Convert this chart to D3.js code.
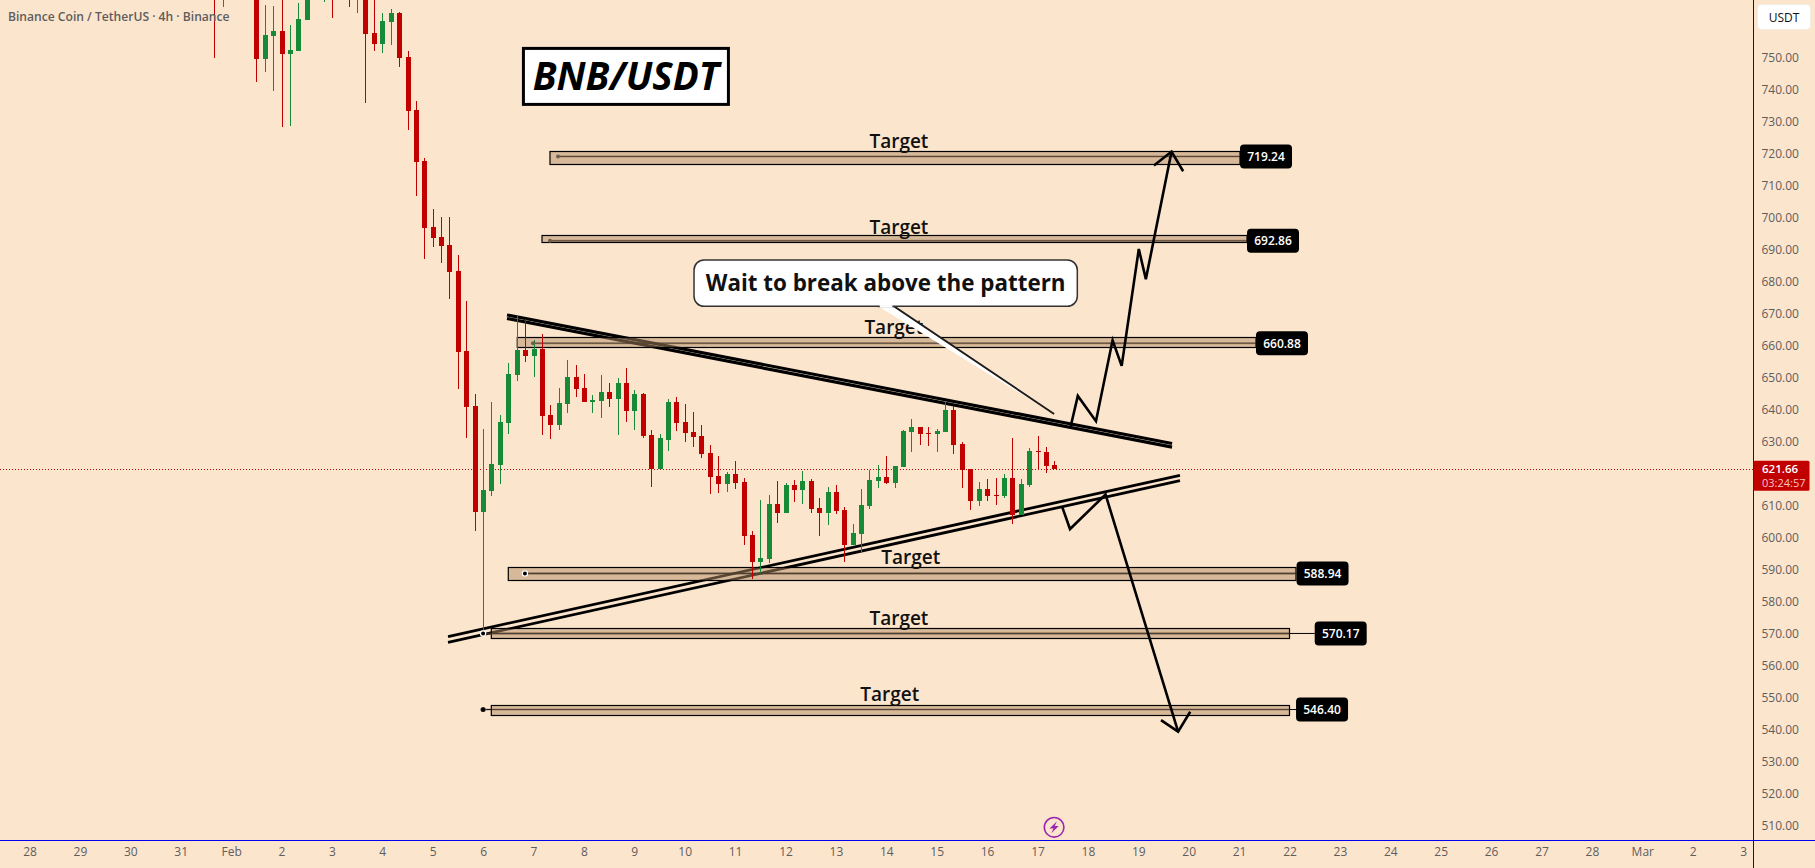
<!DOCTYPE html>
<html>
<head>
<meta charset="utf-8">
<title>BNB/USDT</title>
<script src="https://cdn.jsdelivr.net/npm/d3@7/dist/d3.min.js"></script>
<style>
  html, body { margin: 0; padding: 0; background: #fce5cd; overflow: hidden; }
  svg { display: block; }
  text { font-family: "Open Sans", "Noto Sans", sans-serif; }
</style>
</head>
<body>
<svg id="chart" width="1815" height="868"></svg>
<script>
// 4h candles, oldest first; the last one opens on 17 Feb 08:00 UTC.
const opens = [775,770,782,776,783,778,749.7,756.9,758.4,751.2,752.2,761.9,775,772,778,773,776,771,777,757.8,754.5,761.3,764,750.3,733.8,717.8,697.2,694,691.6,683.4,658.4,641.3,608.2,614.8,622.8,636,651,658.75,656.9,659.1,638.4,635.4,642,650.3,646.9,642.6,642.9,645.6,643.5,648.4,639.8,645,632.2,621.6,630.7,642.5,636.25,633.1,631.9,626.6,619.4,617,620,617.5,600.9,592.6,593.4,610.6,607.9,616.6,615,617.8,609.4,607.9,614.4,608.75,597.9,601.4,610.1,617.8,619,617.2,622.2,633.1,634.7,632.8,632.5,633.1,640,629.4,621.6,611.6,615.3,613.4,613.1,618.75,607.2,616.6,627.2,626.9,622.8];
const highs = [790,785,790,786,790,782,766.6,766.2,770,760.3,767.1,780,784,786,785,782,782,783,782,770,764,765.3,764.4,752.3,736.6,718.8,702.8,700.3,700.3,688.4,674,645,634,642.5,638.4,654.7,669.6,668.3,661.9,663.75,641.6,646.9,655.6,654,651.2,644.7,650.9,648.4,650,653.1,646.25,645.3,633.75,632.5,643.4,644,641.9,639.4,635.3,629,625.6,620.6,624,618.75,602.2,611.9,613.4,617.8,617.2,618.1,620.9,618.4,612.5,615.9,616.6,609.7,604.4,615.3,621.25,622.8,625.6,622.5,633.75,637.2,634.7,634.7,634,642.5,641.25,630,621.6,617.5,618.4,618.75,620,631.25,618.4,628.1,631.9,628.4,624];
const lows = [750.1,766,772,771,773,742.6,745.7,739.8,728.5,728.8,752.2,761.9,769,767.5,762.6,770,766,764.2,736,752.3,751.7,754.2,747.3,727.6,707,687.3,691,686,674.8,646.7,631.3,602.3,570.2,613.2,617,632.6,649.1,655.1,650.4,632.3,631,633.8,639.2,644.2,642.6,639.2,637.6,641,632.3,636.3,633.8,631.3,616,621.6,627.3,633.5,630.1,628.5,625.1,613.8,614.2,614.5,615.4,597.9,587.3,589.2,592.2,604.8,607.9,611.3,610.7,607.9,600.7,604.2,607.6,592.6,597.9,595.3,609.2,615.7,616.9,615.7,622.2,626.9,629,628.75,626.9,633.1,626.25,615.6,608.75,610,611.6,610.3,612.5,604.4,607.2,615.9,621.5,620.3,621.66];
const closes = [768,780,776,783,778,749.7,757.2,758.4,751.3,752.5,762.2,775,772,778,773,776,771,777,757.6,754.5,761.6,764,750.1,733.5,717.6,697,693.8,691.3,683.2,658.2,641,608.2,615,623.1,636.2,651.2,658.75,656.9,659.1,638.2,635.4,642.2,650.3,646.7,642.6,643.1,645.6,643.5,648.4,639.8,645,632,621.7,631.25,642.5,636,632.9,631.6,626.3,619.2,617,620,617.3,600.7,592.6,593.75,610.6,607.9,616.6,615,617.8,609.2,607.9,614.4,608.5,597.9,601.5,610.3,618.1,619,617.2,622.5,633.4,634.7,632.5,632.6,633.4,640,629,621.25,611.6,615.3,613.1,613.2,618.75,607.2,616.9,627.2,627,622.5,621.66];

const lastCandleTime = Date.UTC(2025, 1, 17, 8);
const fourHours = 4 * 3600 * 1000;
const lastPrice = 621.66;
const countdown = "03:24:57";

// Price axis ticks (the 620 slot sits under the last-price tag) and date axis labels.
const priceTicks = d3.range(510, 751, 10).filter(v => v !== 620);
const dayTicks = [
  [2025, 0, 28, "28"], [2025, 0, 29, "29"], [2025, 0, 30, "30"], [2025, 0, 31, "31"], [2025, 1, 1, "Feb"],
  ...d3.range(2, 29).map(d => [2025, 1, d, String(d)]),
  [2025, 2, 1, "Mar"], [2025, 2, 2, "2"], [2025, 2, 3, "3"]
];

// Target zones: level, band edges in price, and start/end expressed as days of February.
const targetLevels = [719.24, 692.86, 660.88, 588.94, 570.17, 546.40];
const targetBandTop = [720.9, 694.7, 662.7, 590.8, 571.8, 547.8];
const targetBandBottom = [716.8, 692.4, 659.6, 586.8, 568.7, 544.6];
const targetStartDay = [7.327, 7.169, 6.678, 6.5, 6.163, 6.163];
const targetEndDay = [21.018, 21.157, 21.335, 22.128, 22.0, 22.0];
const targetAnchorDay = [7.486, 7.327, 6.99, 6.83, 6.0, 6.0];
const targetBadgeDay = [21.018, 21.157, 21.335, 22.14, 22.5, 22.13];
const targetCaptionDay = [14.25, 14.25, 14.15, 14.485, 14.25, 14.07];
const targetCaptionPrice = [721.9, 695.1, 663.6, 591.9, 572.8, 549.2];

// Converging pattern, each side drawn as a pair of parallel rails [day, price].
const resistanceRails = [
  [[6.474, 669.7], [19.67, 629.5]],
  [[6.474, 668.6], [19.67, 628.4]]
];
const supportRails = [
  [[5.304, 569.2], [19.827, 619.6]],
  [[5.304, 567.4], [19.827, 617.9]]
];

// Projected paths for a breakout and for a breakdown.
const breakoutPath = [[17.66, 635], [17.8, 644.4], [18.16, 636.5], [18.49, 661.8], [18.67, 653.8], [19.01, 690.3], [19.15, 680.9], [19.66, 720.75]];
const breakoutHead = [[19.31, 716.4], [19.66, 720.75], [19.89, 714.6]];
const breakdownPath = [[17.49, 609.7], [17.645, 602.8], [18.35, 613.6], [19.79, 539.5]];
const breakdownHead = [[19.45, 543.1], [19.79, 539.5], [20.03, 545.7]];

// Speech-bubble tail, from the bubble's lower edge to its tip.
const calloutTail = [[13.84, 672.4], [14.15, 672.4], [17.33, 638.75]];

const width = 1815, height = 868;
const plotRight = 1753.5, plotBottom = 840.5;

const x = d3.scaleUtc()
  .domain([Date.UTC(2025, 0, 28), Date.UTC(2025, 2, 3)])
  .range([29.5, 29.5 + 34 * 50.4]);
const y = d3.scaleLinear().domain([510, 750]).range([826, 58]);
const dayX = d => x(Date.UTC(2025, 1, 1) + (d - 1) * 864e5);

const ink = "#000000", up = "#178a37", down = "#c10000", paper = "#fce5cd", axisBlue = "#0000f0";
const svg = d3.select("#chart");
svg.append("rect").attr("width", width).attr("height", height).attr("fill", paper);

const line = d3.line().x(d => dayX(d[0])).y(d => y(d[1]));

const candles = opens.map((o, i) => ({
  t: lastCandleTime - (opens.length - 1 - i) * fourHours,
  o, h: highs[i], l: lows[i], c: closes[i]
}));
const plot = svg.append("g").attr("clip-path", "url(#plotClip)");
svg.append("clipPath").attr("id", "plotClip").append("rect")
  .attr("width", plotRight).attr("height", plotBottom);

// Pattern rails sit underneath everything else on the plot.
const rails = plot.append("g").attr("fill", "none").attr("stroke", ink);
rails.selectAll("path.res").data(resistanceRails).join("path").attr("class", "res")
  .attr("d", line).attr("stroke-width", 3.1);
rails.selectAll("path.sup").data(supportRails).join("path").attr("class", "sup")
  .attr("d", line).attr("stroke-width", 2.8);

// Target zones
const zone = plot.append("g").selectAll("g").data(targetLevels).join("g");
zone.append("line")
  .attr("x1", (d, i) => dayX(targetAnchorDay[i])).attr("x2", (d, i) => dayX(targetBadgeDay[i]))
  .attr("y1", d => y(d)).attr("y2", d => y(d))
  .attr("stroke", ink).attr("stroke-width", 1);
zone.append("rect")
  .attr("x", (d, i) => dayX(targetStartDay[i]))
  .attr("width", (d, i) => dayX(targetEndDay[i]) - dayX(targetStartDay[i]))
  .attr("y", (d, i) => Math.round(y(targetBandTop[i])) + 0.5)
  .attr("height", (d, i) => Math.round(y(targetBandBottom[i])) - Math.round(y(targetBandTop[i])))
  .attr("fill", "#b28b65").attr("fill-opacity", 0.5)
  .attr("stroke", ink).attr("stroke-width", 1.2);
zone.append("line")
  .attr("x1", (d, i) => dayX(targetAnchorDay[i])).attr("x2", (d, i) => dayX(targetEndDay[i]))
  .attr("y1", d => y(d)).attr("y2", d => y(d))
  .attr("stroke", "#4a3a2c").attr("stroke-width", 2)
  .attr("stroke-opacity", (d, i) => i === 3 || i === 4 ? 0.7 : 0.35);

// Last price line
plot.append("line").attr("x1", 0).attr("x2", plotRight)
  .attr("y1", Math.round(y(lastPrice)) + 0.5).attr("y2", Math.round(y(lastPrice)) + 0.5)
  .attr("stroke", down).attr("stroke-dasharray", "1 2");

// Candles
const bar = plot.append("g").selectAll("g").data(candles).join("g")
  .attr("fill", d => d.c >= d.o ? up : down);
bar.append("rect")
  .attr("x", d => Math.round(x(d.t)))
  .attr("width", 1)
  .attr("y", d => Math.round(y(d.h)))
  .attr("height", d => Math.max(1, Math.round(y(d.l)) - Math.round(y(d.h))));
bar.append("rect")
  .attr("x", d => Math.round(x(d.t)) - 2)
  .attr("width", 5)
  .attr("y", d => Math.round(y(Math.max(d.o, d.c))))
  .attr("height", d => Math.max(1, Math.round(y(Math.min(d.o, d.c))) - Math.round(y(Math.max(d.o, d.c)))));

// Zone anchors
plot.append("g").selectAll("circle").data(targetLevels).join("circle")
  .attr("cx", (d, i) => dayX(targetAnchorDay[i])).attr("cy", d => y(d))
  .attr("r", (d, i) => i < 3 ? 2 : 2.6)
  .attr("fill", (d, i) => i < 3 ? "#6e5f50" : "#000")
  .attr("stroke", (d, i) => i < 3 ? "none" : "#fff").attr("stroke-width", 1.2)
  .attr("stroke-opacity", (d, i) => i === 5 ? 0.2 : 1);

// Target captions
plot.append("g").selectAll("text").data(targetLevels).join("text")
  .attr("x", (d, i) => dayX(targetCaptionDay[i]))
  .attr("y", (d, i) => y(targetCaptionPrice[i]))
  .attr("text-anchor", "middle")
  .attr("font-size", 19).attr("font-weight", 600).attr("fill", "#111")
  .text("Target");

// Price badges on the zones
const badge = svg.append("g").selectAll("g").data(targetLevels).join("g")
  .attr("transform", (d, i) => `translate(${dayX(targetBadgeDay[i])},${y(d)})`);
badge.append("rect").attr("x", 0).attr("y", -12).attr("width", 52).attr("height", 24).attr("rx", 4).attr("fill", "#000");
badge.append("text").attr("x", 26).attr("y", 4.5).attr("text-anchor", "middle")
  .attr("font-size", 12).attr("font-weight", 600).attr("fill", "#fff")
  .text(d => d.toFixed(2));

// Projected moves
const arrows = plot.append("g").attr("fill", "none").attr("stroke", ink)
  .attr("stroke-width", 2.6).attr("stroke-linejoin", "miter");
[breakoutPath, breakoutHead, breakdownPath, breakdownHead].forEach(p => arrows.append("path").attr("d", line(p)));

// Speech bubble
const bubbleLeft = dayX(10.185), bubbleRight = dayX(17.79), bubbleTop = y(686.9), bubbleBottom = y(672.4);
const bubble = svg.append("g");
bubble.append("path").attr("d", line(calloutTail)).attr("fill", "#fff").attr("stroke", "#1c1c1c").attr("stroke-width", 1.9);
bubble.append("rect")
  .attr("x", bubbleLeft).attr("y", bubbleTop)
  .attr("width", bubbleRight - bubbleLeft).attr("height", bubbleBottom - bubbleTop)
  .attr("rx", 10).attr("fill", "#fff").attr("stroke", "#333").attr("stroke-width", 1.5);
bubble.append("line")
  .attr("x1", dayX(13.87)).attr("x2", dayX(14.12)).attr("y1", bubbleBottom).attr("y2", bubbleBottom)
  .attr("stroke", "#fff").attr("stroke-width", 2.5);
bubble.append("text")
  .attr("x", (bubbleLeft + bubbleRight) / 2).attr("y", (bubbleTop + bubbleBottom) / 2 + 8)
  .attr("text-anchor", "middle").attr("font-size", 22.4).attr("font-weight", 700).attr("fill", "#111")
  .text("Wait to break above the pattern");

// Title box
const titleLeft = dayX(6.8), titleTop = y(753);
svg.append("rect").attr("x", titleLeft).attr("y", titleTop).attr("width", 205).attr("height", 56)
  .attr("fill", "#fff").attr("stroke", "#000").attr("stroke-width", 3);
svg.append("text").attr("x", titleLeft + 102.5).attr("y", titleTop + 41.5)
  .attr("text-anchor", "middle").attr("font-size", 38.5).attr("font-weight", 700).attr("font-style", "italic").attr("fill", "#000")
  .text("BNB/USDT");

// Legend line
svg.append("text").attr("x", 8).attr("y", 21).attr("font-size", 12.1).attr("font-weight", 600).attr("fill", "#5d5d5d")
  .text("Binance Coin / TetherUS · 4h · Binance");

// Axes
const yAxis = d3.axisRight(y).tickValues(priceTicks).tickSize(0).tickPadding(8).tickFormat(d3.format(".2f"));
const yg = svg.append("g").attr("transform", `translate(${plotRight},0)`).call(yAxis);
yg.select(".domain").remove();
yg.selectAll("text").attr("font-size", 12).attr("fill", "#5d5d5d").style("font-family", '"Open Sans", sans-serif');

const xAxis = d3.axisBottom(x)
  .tickValues(dayTicks.map(d => Date.UTC(d[0], d[1], d[2])))
  .tickFormat((d, i) => dayTicks[i][3]).tickSize(0).tickPadding(7);
const xg = svg.append("g").attr("transform", `translate(0,${plotBottom})`).call(xAxis);
xg.select(".domain").remove();
xg.selectAll("text").attr("font-size", 12).attr("fill", "#5d5d5d").style("font-family", '"Open Sans", sans-serif');

svg.append("line").attr("x1", plotRight).attr("x2", plotRight).attr("y1", 0).attr("y2", height).attr("stroke", axisBlue);
svg.append("line").attr("x1", 0).attr("x2", width).attr("y1", plotBottom).attr("y2", plotBottom).attr("stroke", axisBlue);

// Currency button
svg.append("rect").attr("x", 1757.5).attr("y", 4.5).attr("width", 53).attr("height", 25).attr("rx", 4)
  .attr("fill", "#fff").attr("stroke", "#f4ede6");
svg.append("text").attr("x", 1784).attr("y", 21.5).attr("text-anchor", "middle").attr("font-size", 12).attr("fill", "#111").text("USDT");

// Last price tag
const tag = svg.append("g").attr("transform", `translate(${plotRight},${y(lastPrice)})`);
tag.append("rect").attr("x", 0).attr("y", -8).attr("width", 56).attr("height", 30).attr("rx", 1.5).attr("fill", down);
tag.append("text").attr("x", 8.5).attr("y", 4.5).attr("font-size", 11.5).attr("font-weight", 600).attr("fill", "#fff").text(lastPrice.toFixed(2));
tag.append("text").attr("x", 8.5).attr("y", 18).attr("font-size", 11).attr("fill", "#f8c4c4").text(countdown);

// Lightning marker above the date axis
const marker = svg.append("g").attr("transform", `translate(${dayX(17.33)},${y(509.6)})`);
marker.append("circle").attr("r", 9.8).attr("fill", paper).attr("stroke", "#9c27b0").attr("stroke-width", 1.6);
marker.append("path").attr("d", "M2.8,-6 L-4.6,1.2 L-0.6,1.2 L-2.8,6 L4.6,-1.2 L0.6,-1.2 Z").attr("fill", "#9c27b0");
</script>
</body>
</html>
